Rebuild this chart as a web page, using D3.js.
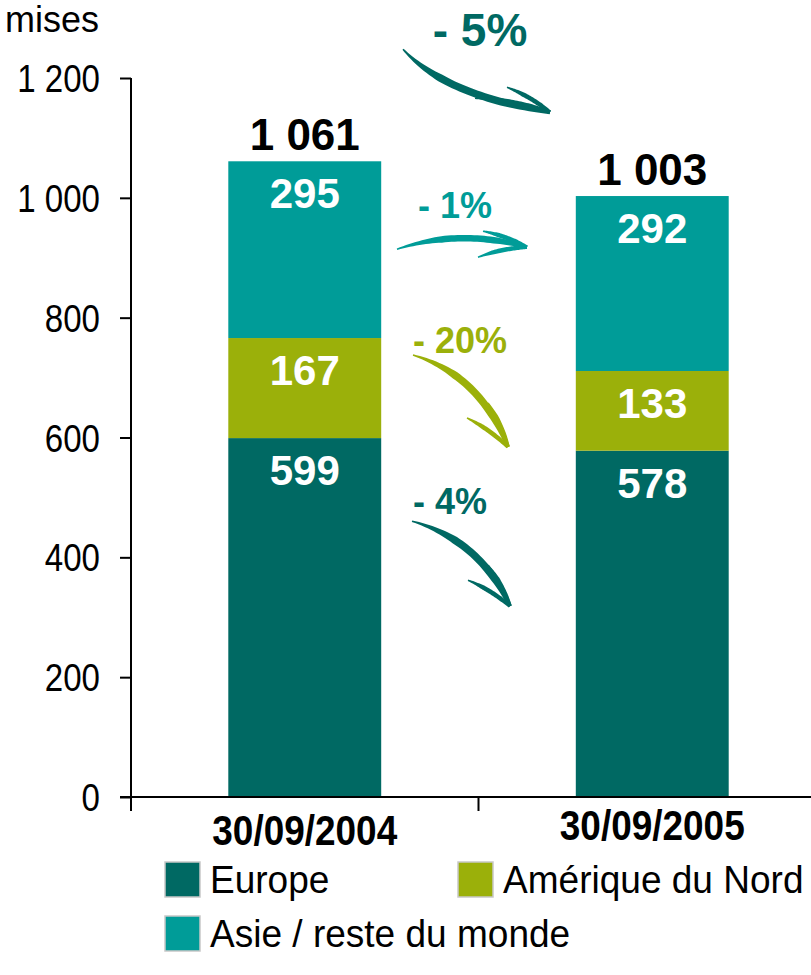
<!DOCTYPE html>
<html>
<head>
<meta charset="utf-8">
<script src="https://cdn.jsdelivr.net/npm/d3@7"></script>
<style>
  body { margin: 0; background: #fff; }
  svg text { font-family: "Liberation Sans", Arial, sans-serif; }
</style>
</head>
<body>
<svg id="chart" width="811" height="975"></svg>
<script>
// data
var dates = ["30/09/2004", "30/09/2005"];
var series = ["Europe", "Amérique du Nord", "Asie / reste du monde"];
var europe = [599, 578];
var amerique = [167, 133];
var asie = [295, 292];
var totals = ["1 061", "1 003"];
var yTicks = [0, 200, 400, 600, 800, 1000, 1200];
var colors = ["#006963", "#9BB00A", "#009C98"];

// evolution arrows: label, colour, anchor value on the y scale
var evoLabels = ["- 5%", "- 1%", "- 20%", "- 4%"];
var evoColors = ["#006963", "#009C98", "#9BB00A", "#006963"];
var evoValues = [1253, 966, 741, 472];

var svg = d3.select("#chart");

var x = d3.scaleBand()
    .domain(dates)
    .range([131, 826])
    .paddingInner(0.56)
    .paddingOuter(0.28);

var y = d3.scaleLinear()
    .domain([0, 1200])
    .range([797, 78]);

var fmt = function(v) { return v >= 1000 ? d3.format(",")(v).replace(",", " ") : String(v); };

// stacked data
var rows = dates.map(function(d, i) {
  return { date: d, Europe: europe[i], "Amérique du Nord": amerique[i], "Asie / reste du monde": asie[i] };
});
var stack = d3.stack().keys(series)(rows);

// y axis
var yAxis = d3.axisLeft(y).tickValues(yTicks).tickSize(11).tickFormat(fmt);
var gy = svg.append("g").attr("transform", "translate(131,0)").call(yAxis);
gy.select(".domain").remove();
gy.selectAll(".tick line").attr("stroke", "#000").attr("stroke-width", 2);
gy.selectAll(".tick text").remove();
yTicks.forEach(function(t) {
  svg.append("text")
    .attr("transform", "translate(100," + (y(t) + 14) + ") scale(0.87,1)")
    .attr("text-anchor", "end")
    .style("font-size", "38px")
    .text(fmt(t));
});
svg.append("line")
  .attr("x1", 131).attr("x2", 131)
  .attr("y1", y(1200)).attr("y2", y(0) + 14)
  .attr("stroke", "#000").attr("stroke-width", 2);

svg.append("text")
  .attr("x", 99).attr("y", 32)
  .attr("text-anchor", "end")
  .style("font-size", "36px")
  .text("mises");

// bars
var layers = svg.selectAll(".layer")
  .data(stack)
  .enter().append("g")
  .attr("class", "layer")
  .attr("fill", function(d, i) { return colors[i]; });

layers.selectAll("rect")
  .data(function(d) { return d; })
  .enter().append("rect")
  .attr("x", function(d) { return x(d.data.date); })
  .attr("width", x.bandwidth())
  .attr("y", function(d) { return y(d[1]); })
  .attr("height", function(d) { return y(d[0]) - y(d[1]); });

layers.selectAll("text")
  .data(function(d) { return d; })
  .enter().append("text")
  .attr("x", function(d) { return x(d.data.date) + x.bandwidth() / 2; })
  .attr("y", function(d) { return y(d[1]) + 47; })
  .attr("text-anchor", "middle")
  .attr("fill", "#fff")
  .style("font-size", "42px")
  .style("font-weight", "bold")
  .text(function(d) { return d[1] - d[0]; });

// totals
svg.selectAll(".total")
  .data(rows)
  .enter().append("text")
  .attr("class", "total")
  .attr("x", function(d) { return x(d.date) + x.bandwidth() / 2; })
  .attr("y", function(d, i) { return y(europe[i] + amerique[i] + asie[i]) - 11; })
  .attr("text-anchor", "middle")
  .style("font-size", "44px")
  .style("font-weight", "bold")
  .text(function(d, i) { return totals[i]; });

// x axis
svg.append("line")
  .attr("x1", 120).attr("x2", 811)
  .attr("y1", y(0)).attr("y2", y(0))
  .attr("stroke", "#000").attr("stroke-width", 2);
var mid = x(dates[1]) - x.step() * x.paddingInner() / 2;
svg.append("line")
  .attr("x1", mid).attr("x2", mid)
  .attr("y1", y(0)).attr("y2", y(0) + 14)
  .attr("stroke", "#000").attr("stroke-width", 2);

var xLabelY = [845, 840];
dates.forEach(function(d, i) {
  svg.append("text")
    .attr("transform", "translate(" + (x(d) + x.bandwidth() / 2) + "," + xLabelY[i] + ") scale(0.88,1)")
    .attr("text-anchor", "middle")
    .style("font-size", "42px")
    .style("font-weight", "bold")
    .text(d);
});

// brush stroke along a quadratic curve: thin start, full body, slight thinning at the tip
function brush(p0, p1, p2, w, tip) {
  var n = 40, left = [], right = [];
  for (var k = 0; k <= n; k++) {
    var t = k / n;
    var px = (1 - t) * (1 - t) * p0[0] + 2 * (1 - t) * t * p1[0] + t * t * p2[0];
    var py = (1 - t) * (1 - t) * p0[1] + 2 * (1 - t) * t * p1[1] + t * t * p2[1];
    var dx = 2 * (1 - t) * (p1[0] - p0[0]) + 2 * t * (p2[0] - p1[0]);
    var dy = 2 * (1 - t) * (p1[1] - p0[1]) + 2 * t * (p2[1] - p1[1]);
    var len = Math.sqrt(dx * dx + dy * dy) || 1;
    var f = Math.min(1, t / 0.35) * (t > 0.75 ? 1 - (1 - tip) * (t - 0.75) / 0.25 : 1);
    var hw = (1.5 + w * f) / 2;
    left.push([px - dy / len * hw, py + dx / len * hw]);
    right.push([px + dy / len * hw, py - dx / len * hw]);
  }
  return d3.line()(left.concat(right.reverse())) + "Z";
}

// arrow shapes relative to the label anchor
var evoX = [480, 455, 460, 450];
var evoSize = [46, 36, 36, 36];
var arrows = [
  { s: [-77, 3], c: [-35, 49], e: [70, 66], b1: [27, 41], b2: [-5, 52], w: 6 },
  { s: [-58, 31], c: [5, 10], e: [72, 29], b1: [28, 13], b2: [23, 39], w: 5 },
  { s: [-47, 2], c: [20, 22], e: [48, 94], b1: [28, 50], b2: [7, 65], w: 6 },
  { s: [-38, 7], c: [30, 26], e: [60, 92], b1: [38, 51], b2: [18, 66], w: 6 }
];

evoLabels.forEach(function(lab, i) {
  var ax = evoX[i], ay = y(evoValues[i]);
  var a = arrows[i];
  var P = function(p) { return [ax + p[0], ay + p[1]]; };
  svg.append("text")
    .attr("x", ax).attr("y", ay)
    .attr("text-anchor", "middle")
    .attr("fill", evoColors[i])
    .style("font-size", evoSize[i] + "px")
    .style("font-weight", "bold")
    .text(lab);
  svg.append("path")
    .attr("d", brush(P(a.s), P(a.c), P(a.e), a.w, 0.4))
    .attr("fill", evoColors[i]);
  [a.b1, a.b2].forEach(function(b) {
    var s = P(b), e = P(a.e);
    var c = [(s[0] + e[0]) / 2 + (e[1] - s[1]) * 0.08, (s[1] + e[1]) / 2 - (e[0] - s[0]) * 0.08];
    svg.append("path")
      .attr("d", brush(s, c, e, 3, 0.7))
      .attr("fill", evoColors[i]);
  });
});

// legend
var legX = [165, 458, 165];
var legY = [862, 862, 916];
series.forEach(function(s, i) {
  svg.append("rect")
    .attr("x", legX[i]).attr("y", legY[i])
    .attr("width", 35).attr("height", 35)
    .attr("fill", colors[i])
    .attr("stroke", "#c8c8c8").attr("stroke-width", 1.5);
  svg.append("text")
    .attr("transform", "translate(" + (legX[i] + 45) + "," + (legY[i] + 31) + ") scale(0.95,1)")
    .style("font-size", "39px")
    .text(s);
});
</script>
</body>
</html>
